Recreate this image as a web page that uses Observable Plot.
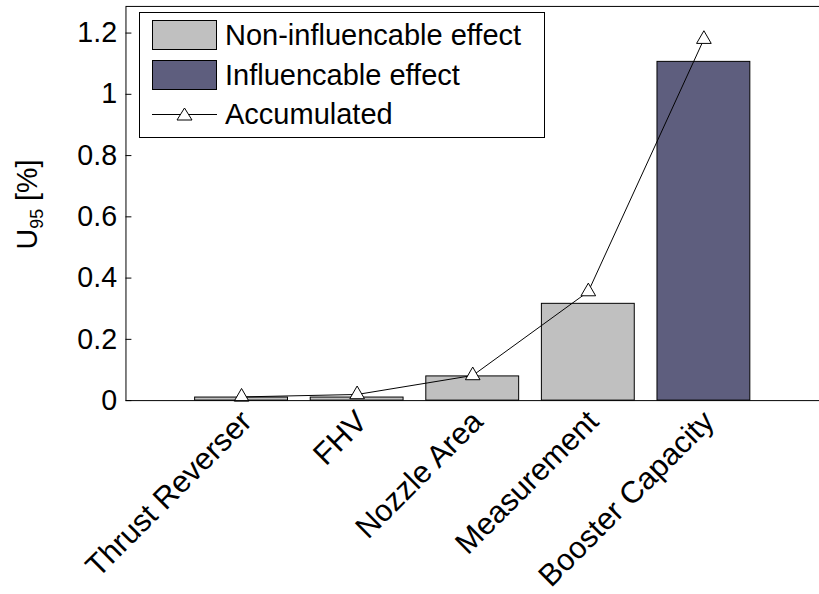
<!DOCTYPE html>
<html><head><meta charset="utf-8">
<script src="https://cdn.jsdelivr.net/npm/d3@7"></script>
<script src="https://cdn.jsdelivr.net/npm/@observablehq/plot@0.6"></script>
<style>
body{margin:0;background:#fff}
#wrap{position:relative;width:819px;height:594px;overflow:hidden;font-family:"Liberation Sans",Arial,sans-serif;background:#fff}
#wrap > svg{position:absolute;left:0;top:0}
#legend{position:absolute;left:139px;top:12px;width:406px;height:126px;border:1px solid #000;background:#fff;box-sizing:border-box}
#legend .sw{position:absolute;left:12px;width:65px;height:30px}
#legend .lt{position:absolute;left:85px;height:30px;line-height:30px;font-size:29px;white-space:nowrap;color:#000}
</style></head><body><div id="wrap"></div>
<script>
const categories = ["Thrust Reverser", "FHV", "Nozzle Area", "Measurement", "Booster Capacity"];
const effectValues = [0.01, 0.01, 0.079, 0.316, 1.106];
const effectTypes = ["Non-influencable effect", "Non-influencable effect", "Non-influencable effect", "Non-influencable effect", "Influencable effect"];
const accumulated = [0.012, 0.02, 0.082, 0.356, 1.18];
const seriesNames = ["Non-influencable effect", "Influencable effect"];
const lineName = "Accumulated";
const seriesColors = ["#c0c0c0", "#5e5e7e"];
const yTicks = [0, 0.2, 0.4, 0.6, 0.8, 1, 1.2];

const data = categories.map((c, i) => ({category: c, value: effectValues[i], type: effectTypes[i], acc: accumulated[i]}));

const chart = Plot.plot({
  width: 829, height: 594,
  marginLeft: 127, marginRight: 0, marginTop: 6, marginBottom: 189,
  style: {fontFamily: "'Liberation Sans', Arial, sans-serif", fontSize: "29px", color: "black", background: "white", overflow: "visible"},
  x: {domain: categories, paddingInner: 0.2, paddingOuter: 0.6, label: null},
  y: {domain: [0, 1.287], label: null},
  color: {domain: seriesNames, range: seriesColors},
  marks: [
    Plot.barY(data, {x: "category", y: "value", fill: "type", stroke: "black", strokeWidth: 1}),
    Plot.line(data, {x: "category", y: "acc", stroke: "black", strokeWidth: 1}),
    Plot.dot(data, {x: "category", y: "acc", symbol: "triangle", r: 5.5, fill: "white", stroke: "black", strokeWidth: 1}),
    Plot.frame({stroke: "black"}),
    Plot.axisY({ticks: yTicks, tickFormat: d => String(d), tickSize: -6, tickPadding: 15, fontSize: 29, label: null}),
    Plot.axisX({tickSize: 0, tickRotate: -45, tickPadding: 8, dx: 5, dy: 8, fontSize: 31, label: null})
  ]
});

const wrap = document.getElementById("wrap");
wrap.appendChild(chart);

// y-axis label with subscript
const svg = d3.select(chart);
const lab = svg.append("text")
  .attr("transform", "translate(37,207) rotate(-90)")
  .attr("text-anchor", "middle")
  .attr("fill", "black")
  .style("font-size", "29px");
lab.append("tspan").text("U");
lab.append("tspan").text("95").style("font-size", "18px").attr("dy", 7);
lab.append("tspan").text(" [%]").attr("dy", -7);

// legend
const legend = document.createElement("div");
legend.id = "legend";
const rowTops = [7, 47, 86];
seriesNames.forEach((name, i) => {
  const sw = document.createElementNS("http://www.w3.org/2000/svg", "svg");
  sw.setAttribute("class", "sw");
  sw.style.top = rowTops[i] + "px";
  sw.setAttribute("width", 65); sw.setAttribute("height", 30);
  sw.innerHTML = `<rect x="0.5" y="0.5" width="64" height="29" fill="${seriesColors[i]}" stroke="black"/>`;
  legend.appendChild(sw);
  const t = document.createElement("div");
  t.className = "lt"; t.style.top = rowTops[i] + "px"; t.textContent = name;
  legend.appendChild(t);
});
{
  const sw = document.createElementNS("http://www.w3.org/2000/svg", "svg");
  sw.setAttribute("class", "sw");
  sw.style.top = rowTops[2] + "px";
  sw.setAttribute("width", 65); sw.setAttribute("height", 30);
  sw.innerHTML = `<line x1="0" x2="65" y1="15.5" y2="15.5" stroke="black"/><path d="M32.5,9L40,21L25,21Z" fill="white" stroke="black"/>`;
  legend.appendChild(sw);
  const t = document.createElement("div");
  t.className = "lt"; t.style.top = rowTops[2] + "px"; t.textContent = lineName;
  legend.appendChild(t);
}
wrap.appendChild(legend);
</script>
</body></html>
